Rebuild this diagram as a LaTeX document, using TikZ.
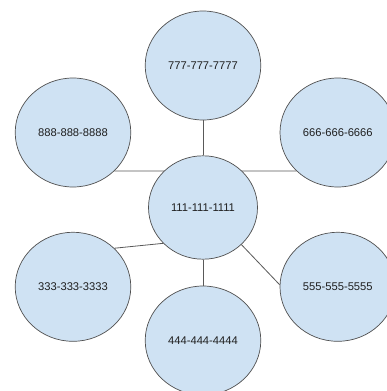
\documentclass[tikz,border=0pt]{standalone}
\usepackage{fontspec}
\setmainfont{Liberation Sans}
\usetikzlibrary{shapes.geometric}
\definecolor{bubblefill}{HTML}{CFE2F3}
\definecolor{bubbleline}{HTML}{505050}
\definecolor{linkline}{HTML}{595959}
\begin{document}
\begin{tikzpicture}[x=1pt,y=-1pt,
  bubble/.style={ellipse, draw=bubbleline, fill=bubblefill, line width=0.7pt,
    minimum width=115.6pt, minimum height=109pt, inner sep=0pt,
    font=\fontsize{11.2pt}{13pt}\selectfont, text=black!88},
  hub/.style={bubble, minimum width=109pt, minimum height=103.4pt},
  link/.style={draw=linkline, line width=0.8pt}]
\useasboundingbox (0,0) rectangle (387,391);
\clip (0,0) rectangle (387,391);
\fill[white] (0,0) rectangle (387,391);
\node[hub]    (n111) at (203,207.5) {111-111-1111};
\node[bubble] (n777) at (203,65.5)  {777-777-7777};
\node[bubble] (n888) at (73,132.5)  {888-888-8888};
\node[bubble] (n666) at (337.8,132.5) {666-666-6666};
\node[bubble] (n333) at (73,286.8)  {333-333-3333};
\node[bubble] (n555) at (337.8,286.8) {555-555-5555};
\node[bubble] (n444) at (203,340.5) {444-444-4444};
\draw[link] (n777.south) -- (n111.north);
\draw[link] (n888.-43.5) -- (n111.137);
\draw[link] (n666.223.5) -- (n111.43);
\draw[link] (n333.43) -- (n111.222.6);
\draw[link] (n555.178) -- (n111.316.3);
\draw[link] (n111.south) -- (n444.north);
\end{tikzpicture}
\end{document}
